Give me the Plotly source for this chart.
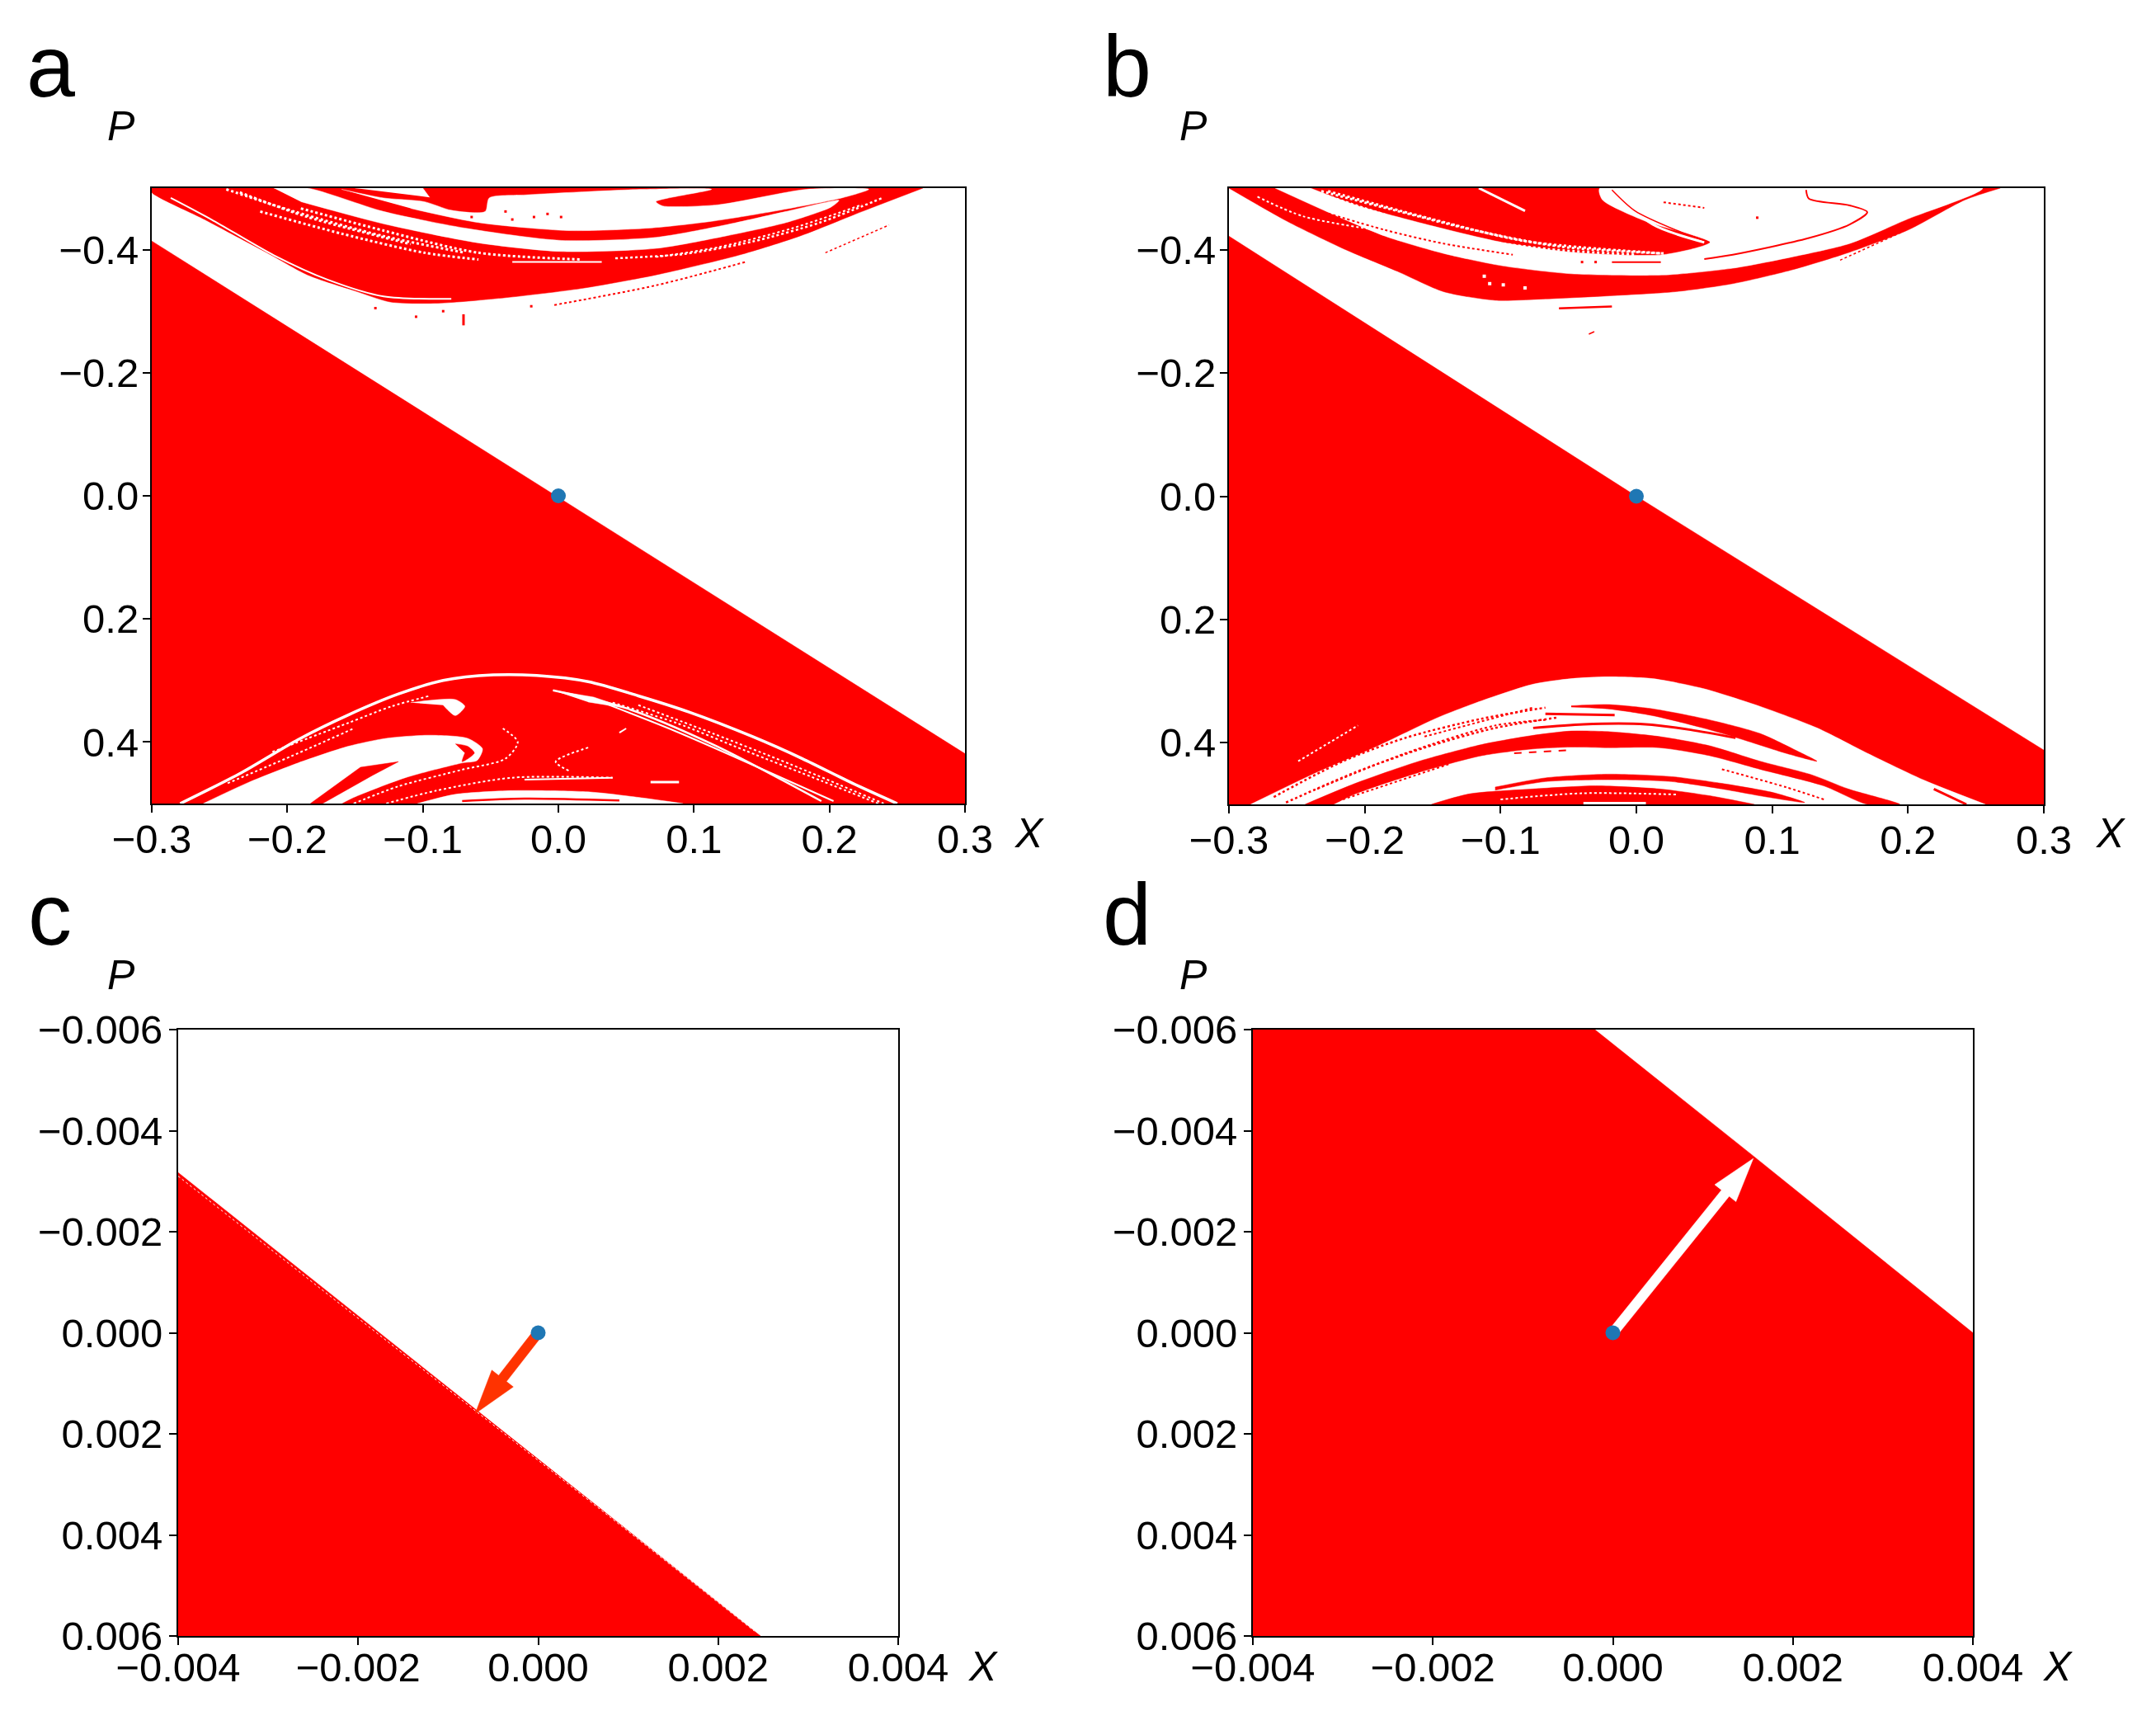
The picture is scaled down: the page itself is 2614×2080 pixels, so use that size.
import plotly.graph_objects as go

W, H = 2614, 2080
RED, WHITE, BLUE = "#ff0000", "#ffffff", "#1f77b4"

# ---- ticks
TICKS_XAB = [-0.3, -0.2, -0.1, 0.0, 0.1, 0.2, 0.3]
LABELS_XAB = ["\u22120.3", "\u22120.2", "\u22120.1", "0.0", "0.1", "0.2", "0.3"]
TICKS_YAB = [-0.4, -0.2, 0.0, 0.2, 0.4]
LABELS_YAB = ["\u22120.4", "\u22120.2", "0.0", "0.2", "0.4"]
TICKS_XCD = [-0.004, -0.002, 0.0, 0.002, 0.004]
LABELS_XCD = ["\u22120.004", "\u22120.002", "0.000", "0.002", "0.004"]
TICKS_YCD = [-0.006, -0.004, -0.002, 0.0, 0.002, 0.004, 0.006]
LABELS_YCD = ["\u22120.006", "\u22120.004", "\u22120.002", "0.000", "0.002", "0.004", "0.006"]

# ---- panel a : main wedge
A_WEDGE_X = [-0.3, 0.3, 0.3, -0.3]
A_WEDGE_Y = [-0.414, 0.419, 0.5, 0.5]
# panel a : upper band
A_BAND_X = [-0.3, -0.3, -0.261, -0.215, -0.185, -0.15, -0.124, -0.089, -0.039, 0.017, 0.072, 0.133, 0.178, 0.224, 0.269]
A_BAND_Y = [-0.5, -0.493, -0.449, -0.395, -0.359, -0.333, -0.315, -0.313, -0.322, -0.337, -0.359, -0.391, -0.422, -0.462, -0.5]
A_W1_X = [-0.160, -0.129, -0.099, -0.079, -0.054, -0.051, -0.024, 0.062, 0.113, 0.072, 0.077, 0.118, 0.183, 0.229, 0.209, 0.158, 0.113, 0.067, 0.007, -0.059, -0.109]
A_W1_Y = [-0.498, -0.484, -0.478, -0.464, -0.462, -0.484, -0.489, -0.498, -0.498, -0.478, -0.471, -0.473, -0.498, -0.498, -0.484, -0.462, -0.446, -0.435, -0.431, -0.444, -0.467]
A_W1B_X = [-0.150, -0.100, -0.095]
A_W1B_Y = [-0.5, -0.5, -0.485]
A_W2_X = [-0.210, -0.185, -0.129, -0.069, 0.002, 0.072, 0.123, 0.168, 0.207, 0.201, 0.168, 0.123, 0.072, 0.002, -0.059, -0.129, -0.190]
A_W2_Y = [-0.5, -0.5, -0.462, -0.435, -0.415, -0.420, -0.440, -0.462, -0.480, -0.469, -0.444, -0.422, -0.402, -0.397, -0.411, -0.442, -0.478]
A_L1_X = [-0.220, -0.160, -0.099, -0.059]
A_L1_Y = [-0.462, -0.426, -0.395, -0.384]
A_L2_X = [-0.245, -0.195, -0.129, -0.069]
A_L2_Y = [-0.498, -0.462, -0.422, -0.395]
A_L3_X = [-0.034, 0.032]
A_L3_Y = [-0.380, -0.380]
A_L4_X = [-0.286, -0.256, -0.210, -0.170, -0.129, -0.079]
A_L4_Y = [-0.484, -0.449, -0.391, -0.351, -0.324, -0.320]
A_L5_X = [0.072, 0.118, 0.173, 0.224]
A_L5_Y = [-0.388, -0.404, -0.435, -0.473]
A_L6_X = [-0.190, -0.129, -0.059, 0.017]
A_L6_Y = [-0.467, -0.431, -0.395, -0.384]
A_L7_X = [-0.235, -0.185, -0.109]
A_L7_Y = [-0.493, -0.453, -0.409]
A_L8_X = [0.042, 0.093, 0.143, 0.193, 0.239]
A_L8_Y = [-0.386, -0.393, -0.413, -0.444, -0.484]
A_R1_X = [-0.003, 0.072, 0.138]
A_R1_Y = [-0.310, -0.342, -0.380]
A_R2_X = [0.197, 0.244]
A_R2_Y = [-0.395, -0.440]
A_R3_X = [-0.070, -0.070]
A_R3_Y = [-0.295, -0.277]
A_SPECK_X = [-0.064, -0.018, -0.008, 0.002, -0.039, -0.034, -0.135, -0.105, -0.020, -0.085]
A_SPECK_Y = [-0.453, -0.453, -0.458, -0.453, -0.462, -0.449, -0.305, -0.291, -0.308, -0.300]
# panel a : lower structure
A_ARC_X = [-0.279, -0.234, -0.192, -0.155, -0.118, -0.085, -0.048, -0.016, 0.022, 0.059, 0.096, 0.143, 0.180, 0.217, 0.250]
A_ARC_Y = [0.5, 0.450, 0.396, 0.356, 0.322, 0.300, 0.291, 0.292, 0.302, 0.325, 0.351, 0.391, 0.427, 0.467, 0.5]
A_ARC2_X = [-0.211, -0.155, -0.123, -0.095]
A_ARC2_Y = [0.416, 0.369, 0.342, 0.325]
A_RL1_X = [-0.004, 0.050, 0.115, 0.194]
A_RL1_Y = [0.316, 0.345, 0.405, 0.496]
A_RL2_X = [0.022, 0.087, 0.203]
A_RL2_Y = [0.327, 0.383, 0.496]
A_RL3_X = [0.059, 0.115, 0.171, 0.240]
A_RL3_Y = [0.340, 0.387, 0.436, 0.5]
A_RL4_X = [0.040, 0.087, 0.138, 0.194, 0.236]
A_RL4_Y = [0.336, 0.369, 0.414, 0.463, 0.5]
A_RL5_X = [-0.244, -0.197, -0.151]
A_RL5_Y = [0.467, 0.423, 0.378]
A_WEDGE2_X = [-0.004, 0.026, 0.050, 0.022]
A_WEDGE2_Y = [0.316, 0.327, 0.345, 0.335]
A_BLOB1_X = [-0.109, -0.076, -0.069, -0.076, -0.085]
A_BLOB1_Y = [0.336, 0.331, 0.342, 0.357, 0.340]
A_BLOB2_X = [-0.262, -0.230, -0.192, -0.155, -0.127, -0.095, -0.067, -0.056, -0.060, -0.071, -0.113, -0.151, -0.160]
A_BLOB2_Y = [0.5, 0.467, 0.434, 0.407, 0.394, 0.389, 0.394, 0.411, 0.430, 0.434, 0.458, 0.49, 0.5]
A_CRES_X = [-0.076, -0.067, -0.062, -0.071, -0.069]
A_CRES_Y = [0.403, 0.407, 0.418, 0.432, 0.418]
A_STREAK_X = [-0.183, -0.146, -0.118, -0.137, -0.174]
A_STREAK_Y = [0.5, 0.441, 0.432, 0.454, 0.5]
A_ARC3_X = [-0.104, -0.076, -0.034, 0.022, 0.059, 0.092]
A_ARC3_Y = [0.5, 0.485, 0.479, 0.481, 0.490, 0.5]
A_RED3_X = [-0.071, -0.025, 0.045]
A_RED3_Y = [0.496, 0.492, 0.495]
A_D1_X = [-0.151, -0.118, -0.071, -0.039, -0.030, -0.041]
A_D1_Y = [0.5, 0.472, 0.445, 0.427, 0.400, 0.378]
A_D2_X = [-0.127, -0.090, -0.034, 0.040]
A_D2_Y = [0.5, 0.479, 0.458, 0.458]
A_D3_X = [-0.025, 0.040]
A_D3_Y = [0.461, 0.458]
A_D4_X = [0.068, 0.089]
A_D4_Y = [0.465, 0.465]
A_D5_X = [0.022, -0.002, 0.008]
A_D5_Y = [0.409, 0.432, 0.447]
A_D6_X = [0.045, 0.050]
A_D6_Y = [0.385, 0.378]

# ---- panel b : main wedge
B_WEDGE_X = [-0.3, 0.0, 0.3, 0.3, -0.3]
B_WEDGE_Y = [-0.422, 0.0, 0.412, 0.5, 0.5]
# panel b : upper band
B_BAND_X = [-0.3, -0.257, -0.215, -0.176, -0.142, -0.104, -0.069, -0.022, 0.029, 0.071, 0.114, 0.157, 0.200, 0.242, 0.268]
B_BAND_Y = [-0.5, -0.446, -0.401, -0.365, -0.332, -0.318, -0.320, -0.325, -0.332, -0.345, -0.367, -0.396, -0.432, -0.481, -0.5]
B_W1_X = [-0.266, -0.227, -0.185, -0.142, -0.099, -0.048, 0.020, 0.071, 0.114, 0.157, 0.200, 0.255, -0.027, -0.025, 0.007, 0.054, 0.020, -0.048, -0.099, -0.151, -0.206, -0.240]
B_W1_Y = [-0.5, -0.461, -0.422, -0.394, -0.374, -0.361, -0.359, -0.370, -0.388, -0.410, -0.450, -0.5, -0.5, -0.481, -0.446, -0.412, -0.392, -0.396, -0.412, -0.439, -0.472, -0.5]
B_L1_X = [-0.227, -0.151, -0.082, 0.020]
B_L1_Y = [-0.495, -0.450, -0.414, -0.394]
B_L2_X = [-0.279, -0.245, -0.185]
B_L2_Y = [-0.486, -0.454, -0.430]
B_L3_X = [-0.116, -0.082]
B_L3_Y = [-0.5, -0.463]
B_L4_X = [-0.018, 0.012, 0.050]
B_L4_Y = [-0.5, -0.441, -0.412]
B_L5_X = [-0.232, -0.185, -0.120, -0.056, 0.020]
B_L5_Y = [-0.495, -0.468, -0.432, -0.405, -0.394]
B_L6_X = [-0.245, -0.194, -0.134, -0.065, -0.001]
B_L6_Y = [-0.5, -0.463, -0.423, -0.401, -0.392]
B_L7_X = [-0.227, -0.185, -0.142, -0.091]
B_L7_Y = [-0.459, -0.432, -0.410, -0.392]
B_L8_X = [-0.018, -0.001, 0.029, 0.054]
B_L8_Y = [-0.497, -0.463, -0.432, -0.412]
B_HOOK_X = [0.125, 0.127, 0.157, 0.170, 0.157, 0.127, 0.071, 0.050]
B_HOOK_Y = [-0.497, -0.483, -0.472, -0.461, -0.441, -0.419, -0.392, -0.385]
B_R1_X = [-0.018, 0.018]
B_R1_Y = [-0.380, -0.380]
B_R2_X = [-0.057, -0.018]
B_R2_Y = [-0.305, -0.308]
B_R3_X = [-0.035, -0.031]
B_R3_Y = [-0.263, -0.267]
B_R4_X = [0.150, 0.195]
B_R4_Y = [-0.383, -0.428]
B_R5_X = [0.020, 0.050]
B_R5_Y = [-0.477, -0.468]
B_SW_X = [-0.112, -0.108, -0.098, -0.082]
B_SW_Y = [-0.357, -0.345, -0.343, -0.338]
B_SR_X = [0.089, -0.040, -0.030]
B_SR_Y = [-0.452, -0.380, -0.380]
# panel b : lower structure
B_ARCH_X = [-0.284, -0.239, -0.193, -0.146, -0.114, -0.076, -0.048, -0.021, 0.012, 0.049, 0.091, 0.133, 0.170, 0.212, 0.257]
B_ARCH_Y = [0.5, 0.452, 0.408, 0.359, 0.332, 0.305, 0.296, 0.293, 0.296, 0.312, 0.341, 0.376, 0.417, 0.461, 0.5]
B_S1_X = [-0.048, -0.021, 0.012, 0.054, 0.091, 0.119, 0.133, 0.110, 0.077, 0.049, 0.012, -0.021, -0.048]
B_S1_Y = [0.340, 0.338, 0.345, 0.363, 0.385, 0.414, 0.430, 0.417, 0.394, 0.376, 0.356, 0.345, 0.342]
B_S2_X = [-0.244, -0.207, -0.160, -0.114, -0.076, -0.048, -0.021, 0.017, 0.054, 0.091, 0.129, 0.156, 0.194, 0.170, 0.138, 0.091, 0.054, 0.017, -0.021, -0.048, -0.076, -0.114, -0.160, -0.207, -0.223]
B_S2_Y = [0.5, 0.466, 0.430, 0.403, 0.388, 0.381, 0.382, 0.390, 0.405, 0.430, 0.452, 0.475, 0.5, 0.5, 0.470, 0.443, 0.421, 0.408, 0.408, 0.407, 0.410, 0.421, 0.448, 0.483, 0.5]
B_S3_X = [-0.104, -0.067, -0.021, 0.026, 0.063, 0.101, 0.124, 0.096, 0.063, 0.026, -0.021, -0.067, -0.104]
B_S3_Y = [0.472, 0.457, 0.451, 0.455, 0.466, 0.481, 0.497, 0.488, 0.475, 0.463, 0.460, 0.463, 0.477]
B_S4_X = [-0.151, -0.123, -0.076, -0.030, 0.017, 0.054, 0.087]
B_S4_Y = [0.5, 0.483, 0.475, 0.470, 0.475, 0.486, 0.5]
B_T1_X = [-0.076, -0.039, 0.007, 0.040, 0.073]
B_T1_Y = [0.376, 0.370, 0.370, 0.379, 0.392]
B_T2_X = [-0.067, -0.016]
B_T2_Y = [0.353, 0.355]
B_T3_X = [-0.156, -0.076]
B_T3_Y = [0.390, 0.343]
B_T4_X = [-0.235, -0.170, -0.104, -0.067]
B_T4_Y = [0.475, 0.417, 0.372, 0.363]
B_T5_X = [0.219, 0.243]
B_T5_Y = [0.475, 0.5]
B_T6_X = [-0.223, -0.137]
B_T6_Y = [0.497, 0.434]
B_T7_X = [-0.090, -0.048]
B_T7_Y = [0.417, 0.412]
B_T8_X = [0.030, 0.090, 0.125]
B_T8_Y = [0.415, 0.455, 0.480]
B_T9_X = [-0.267, -0.216, -0.170, -0.114, -0.067]
B_T9_Y = [0.488, 0.430, 0.392, 0.361, 0.343]
B_T10_X = [-0.258, -0.207, -0.156, -0.104, -0.058]
B_T10_Y = [0.497, 0.448, 0.408, 0.376, 0.359]
B_T11_X = [0.063, 0.110, 0.138]
B_T11_Y = [0.443, 0.472, 0.492]
B_WL1_X = [-0.249, -0.205]
B_WL1_Y = [0.430, 0.372]
B_WL2_X = [-0.039, 0.007]
B_WL2_Y = [0.498, 0.498]
B_WL3_X = [-0.100, -0.040, 0.030]
B_WL3_Y = [0.492, 0.482, 0.484]

# ---- panels c, d
C_WEDGE_X = [-0.004, 0.00247, -0.004]
C_WEDGE_Y = [-0.00317, 0.006, 0.006]
C_EDGE_X = [-0.004, 0.0024]
C_EDGE_Y = [-0.0031, 0.0059]
C_ARROW_TIP = (-0.0007, 0.0016)
D_WEDGE_X = [-0.004, -0.0002, 0.00156, 0.004, 0.004, -0.004]
D_WEDGE_Y = [-0.006, -0.006, -0.0035, 0.0, 0.006, 0.006]
D_ARROW_TIP = (0.00156, -0.00345)
ORIGIN = (0.0, 0.0)

# ---- panel frames (left, right, top, bottom in page pixels)
FRAMES = {"a": (184, 1170, 228, 974), "b": (1490, 2478, 228, 975),
          "c": (216, 1089, 1248, 1983), "d": (1519, 2392, 1248, 1983)}
IDS = {"a": "", "b": "2", "c": "3", "d": "4"}
RANGES = {"a": ((-0.3, 0.3), (0.5, -0.5)), "b": ((-0.3, 0.3), (0.5, -0.5)),
          "c": ((-0.004, 0.004), (0.006, -0.006)), "d": ((-0.004, 0.004), (0.006, -0.006))}
STANDOFF = {"a": (-10, -5), "b": (-10, -5), "c": (-15, -2), "d": (-15, -2)}

fig = go.Figure()


def poly(p, xs, ys, color, smooth=False):
    ln = dict(color=color, width=0.5)
    if smooth:
        ln.update(shape="spline", smoothing=0.7)
    fig.add_trace(go.Scatter(x=xs, y=ys, mode="lines", fill="toself", fillcolor=color, line=ln,
                             hoverinfo="skip", showlegend=False,
                             xaxis="x" + IDS[p], yaxis="y" + IDS[p]))


def line(p, xs, ys, color, width, dash="solid"):
    fig.add_trace(go.Scatter(x=xs, y=ys, mode="lines",
                             line=dict(color=color, width=width, dash=dash, shape="spline", smoothing=0.8),
                             hoverinfo="skip", showlegend=False,
                             xaxis="x" + IDS[p], yaxis="y" + IDS[p]))


def specks(p, xs, ys, color, size):
    fig.add_trace(go.Scatter(x=xs, y=ys, mode="markers", marker=dict(color=color, size=size, symbol="square"),
                             hoverinfo="skip", showlegend=False,
                             xaxis="x" + IDS[p], yaxis="y" + IDS[p]))


def dot(p):
    fig.add_trace(go.Scatter(x=[ORIGIN[0]], y=[ORIGIN[1]], mode="markers",
                             marker=dict(color=BLUE, size=18, line=dict(width=0)),
                             hoverinfo="skip", showlegend=False,
                             xaxis="x" + IDS[p], yaxis="y" + IDS[p]))


def arrow(p, tip, color):
    l, r, t, b = FRAMES[p]
    (x0, x1), (y0, y1) = RANGES[p]
    sx = (r - l) / (x1 - x0)
    sy = (b - t) / (y1 - y0)
    dx, dy = (tip[0] - ORIGIN[0]) * sx, (tip[1] - ORIGIN[1]) * sy
    n = (dx * dx + dy * dy) ** 0.5
    ux, uy = dx / n, dy / n
    vx, vy = -uy, ux
    hl, hw, sw = 54, 16.5, 6
    pts = [(0, sw), (n - hl, sw), (n - hl, hw), (n, 0), (n - hl, -hw), (n - hl, -sw), (0, -sw)]
    xs = [ORIGIN[0] + (a * ux + c * vx) / sx for a, c in pts]
    ys = [ORIGIN[1] + (a * uy + c * vy) / sy for a, c in pts]
    poly(p, xs, ys, color)


# panel a
poly("a", A_WEDGE_X, A_WEDGE_Y, RED)
poly("a", A_BAND_X, A_BAND_Y, RED, True)
poly("a", A_W1_X, A_W1_Y, WHITE, True)
poly("a", A_W1B_X, A_W1B_Y, WHITE)
poly("a", A_W2_X, A_W2_Y, WHITE, True)
line("a", A_L1_X, A_L1_Y, WHITE, 3, "dot")
line("a", A_L2_X, A_L2_Y, WHITE, 3, "dot")
line("a", A_L3_X, A_L3_Y, WHITE, 2)
line("a", A_L4_X, A_L4_Y, WHITE, 2)
line("a", A_L5_X, A_L5_Y, WHITE, 2, "dot")
line("a", A_L6_X, A_L6_Y, WHITE, 3, "dot")
line("a", A_L7_X, A_L7_Y, WHITE, 3, "dot")
line("a", A_L8_X, A_L8_Y, WHITE, 2.5, "dot")
line("a", A_R1_X, A_R1_Y, RED, 2, "dot")
line("a", A_R2_X, A_R2_Y, RED, 1.5, "dot")
line("a", A_R3_X, A_R3_Y, RED, 3)
specks("a", A_SPECK_X, A_SPECK_Y, RED, 3)
line("a", A_ARC_X, A_ARC_Y, WHITE, 3.5)
line("a", A_ARC2_X, A_ARC2_Y, WHITE, 2, "dot")
line("a", A_RL1_X, A_RL1_Y, WHITE, 2.5)
line("a", A_RL2_X, A_RL2_Y, WHITE, 2)
line("a", A_RL3_X, A_RL3_Y, WHITE, 2, "dot")
line("a", A_RL4_X, A_RL4_Y, WHITE, 2, "dot")
line("a", A_RL5_X, A_RL5_Y, WHITE, 2, "dot")
poly("a", A_WEDGE2_X, A_WEDGE2_Y, WHITE)
poly("a", A_BLOB1_X, A_BLOB1_Y, WHITE, True)
poly("a", A_BLOB2_X, A_BLOB2_Y, WHITE, True)
poly("a", A_CRES_X, A_CRES_Y, RED, True)
poly("a", A_STREAK_X, A_STREAK_Y, RED)
poly("a", A_ARC3_X, A_ARC3_Y, WHITE, True)
line("a", A_RED3_X, A_RED3_Y, RED, 2.5)
line("a", A_D1_X, A_D1_Y, WHITE, 2, "dot")
line("a", A_D2_X, A_D2_Y, WHITE, 2, "dot")
line("a", A_D3_X, A_D3_Y, WHITE, 2)
line("a", A_D4_X, A_D4_Y, WHITE, 3)
line("a", A_D5_X, A_D5_Y, WHITE, 2, "dot")
line("a", A_D6_X, A_D6_Y, WHITE, 2)
dot("a")

# panel b
poly("b", B_WEDGE_X, B_WEDGE_Y, RED)
poly("b", B_BAND_X, B_BAND_Y, RED, True)
poly("b", B_W1_X, B_W1_Y, WHITE, True)
line("b", B_L1_X, B_L1_Y, WHITE, 3, "dot")
line("b", B_L2_X, B_L2_Y, WHITE, 2, "dot")
line("b", B_L3_X, B_L3_Y, WHITE, 3)
line("b", B_L4_X, B_L4_Y, WHITE, 3)
line("b", B_L5_X, B_L5_Y, WHITE, 3, "dot")
line("b", B_L6_X, B_L6_Y, WHITE, 3, "dot")
line("b", B_L7_X, B_L7_Y, RED, 2, "dot")
line("b", B_L8_X, B_L8_Y, RED, 1.5)
line("b", B_HOOK_X, B_HOOK_Y, RED, 2)
line("b", B_R1_X, B_R1_Y, RED, 2)
line("b", B_R2_X, B_R2_Y, RED, 2.5)
line("b", B_R3_X, B_R3_Y, RED, 1.5)
line("b", B_R4_X, B_R4_Y, RED, 1.5, "dot")
line("b", B_R5_X, B_R5_Y, RED, 2, "dot")
specks("b", B_SW_X, B_SW_Y, WHITE, 4)
specks("b", B_SR_X, B_SR_Y, RED, 3)
poly("b", B_ARCH_X, B_ARCH_Y, WHITE, True)
poly("b", B_S1_X, B_S1_Y, RED, True)
poly("b", B_S2_X, B_S2_Y, RED, True)
poly("b", B_S3_X, B_S3_Y, RED, True)
poly("b", B_S4_X, B_S4_Y, RED, True)
line("b", B_T1_X, B_T1_Y, RED, 3)
line("b", B_T2_X, B_T2_Y, RED, 3)
line("b", B_T3_X, B_T3_Y, RED, 2, "dot")
line("b", B_T4_X, B_T4_Y, RED, 2, "dot")
line("b", B_T5_X, B_T5_Y, RED, 3)
line("b", B_T6_X, B_T6_Y, RED, 2, "dot")
line("b", B_T7_X, B_T7_Y, RED, 2, "dash")
line("b", B_T8_X, B_T8_Y, WHITE, 2, "dot")
line("b", B_T9_X, B_T9_Y, RED, 2.5, "dot")
line("b", B_T10_X, B_T10_Y, RED, 2.5, "dot")
line("b", B_T11_X, B_T11_Y, RED, 2, "dot")
line("b", B_WL1_X, B_WL1_Y, WHITE, 2, "dot")
line("b", B_WL2_X, B_WL2_Y, WHITE, 3)
line("b", B_WL3_X, B_WL3_Y, WHITE, 2, "dot")
dot("b")

# panel c
poly("c", C_WEDGE_X, C_WEDGE_Y, RED)
line("c", C_EDGE_X, C_EDGE_Y, WHITE, 1, "dot")
arrow("c", C_ARROW_TIP, "#ff3300")
dot("c")

# panel d
poly("d", D_WEDGE_X, D_WEDGE_Y, RED)
arrow("d", D_ARROW_TIP, WHITE)
dot("d")

layout = dict(width=W, height=H, autosize=False, margin=dict(l=0, r=0, t=0, b=0, pad=0),
              paper_bgcolor="white", plot_bgcolor="white", showlegend=False, template="none",
              font=dict(family="Liberation Sans", color="black"))
TICKSETS = {"a": (TICKS_XAB, LABELS_XAB, TICKS_YAB, LABELS_YAB), "b": (TICKS_XAB, LABELS_XAB, TICKS_YAB, LABELS_YAB),
            "c": (TICKS_XCD, LABELS_XCD, TICKS_YCD, LABELS_YCD), "d": (TICKS_XCD, LABELS_XCD, TICKS_YCD, LABELS_YCD)}
for p, (l, r, t, b) in FRAMES.items():
    tx, lx, ty, ly = TICKSETS[p]
    common = dict(showgrid=False, zeroline=False, showline=True, mirror=True, linecolor="black", linewidth=2,
                  ticks="outside", ticklen=9, tickwidth=2, tickcolor="black", automargin=False,
                  tickfont=dict(family="Liberation Sans", size=49, color="black"), tickmode="array")
    layout["xaxis" + IDS[p]] = dict(common, domain=[l / W, r / W], range=list(RANGES[p][0]),
                                    tickvals=tx, ticktext=lx, anchor="y" + IDS[p],
                                    ticklabelstandoff=STANDOFF[p][0])
    layout["yaxis" + IDS[p]] = dict(common, domain=[1 - b / H, 1 - t / H], range=list(RANGES[p][1]),
                                    tickvals=ty, ticktext=ly, anchor="x" + IDS[p],
                                    ticklabelstandoff=STANDOFF[p][1])
fig.update_layout(**layout)


def note(text, cx, cy, size):
    fig.add_annotation(text=text, x=cx / W, y=1 - cy / H, xref="paper", yref="paper", showarrow=False,
                       xanchor="center", yanchor="middle", font=dict(family="Liberation Sans", size=size, color="black"))


for txt, cx, cy in [("a", 62, 80), ("b", 1366, 80), ("c", 60, 1108), ("d", 1366, 1108)]:
    note(txt, cx, cy, 106)
for cx, cy in [(147, 153), (1447, 153), (147, 1182), (1447, 1182)]:
    note("<i>P</i>", cx, cy, 50)
for cx, cy in [(1248, 1010), (2559, 1010), (1192, 2020), (2495, 2020)]:
    note("<i>X</i>", cx, cy, 50)

fig.write_html("out.html", config={"displayModeBar": False}, post_script="document.body.style.margin='0';")
